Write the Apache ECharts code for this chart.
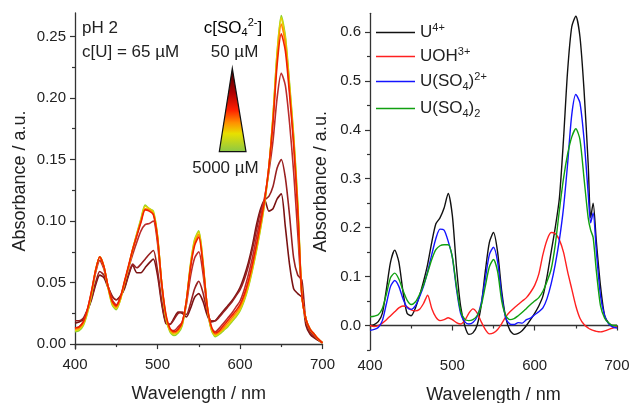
<!DOCTYPE html>
<html><head><meta charset="utf-8">
<script src="https://cdn.jsdelivr.net/npm/echarts@6/dist/echarts.min.js"></script>
<style>html,body{margin:0;padding:0;background:#fff}#c{width:631px;height:403px}</style>
</head><body><div id="c"></div>
<script>
// ---------- DATA ----------
const wlLeft = [400,405,410,415,420,425,430,435,440,445,450,455,460,465,470,475,480,485,490,495,
  500,505,510,515,520,525,530,535,540,545,550,555,560,565,570,575,580,585,590,595,
  600,605,610,615,620,625,630,635,640,645,650,655,660,665,670,675,680,685,690,695,700];

// sulfate series, 5000 µM (green) ... 50 µM (dark red)
const sGreen = [0.010,0.011,0.015,0.025,0.040,0.060,0.071,0.063,0.046,0.032,
 0.028,0.036,0.050,0.063,0.077,0.090,0.102,0.113,0.110,0.108,
 0.088,0.050,0.022,0.010,0.007,0.009,0.015,0.035,0.065,0.085,
 0.092,0.068,0.032,0.012,0.006,0.008,0.011,0.014,0.018,0.022,
 0.027,0.035,0.046,0.060,0.076,0.094,0.115,0.143,0.185,0.237,
 0.267,0.250,0.212,0.170,0.115,0.040,0.020,0.012,0.008,0.004,0.001];
const sYellow = [0.011,0.012,0.016,0.026,0.041,0.060,0.071,0.063,0.046,0.033,
 0.029,0.036,0.050,0.063,0.077,0.089,0.101,0.112,0.110,0.107,
 0.088,0.050,0.023,0.011,0.008,0.010,0.016,0.035,0.064,0.084,
 0.091,0.067,0.032,0.013,0.007,0.009,0.012,0.015,0.019,0.023,
 0.028,0.036,0.047,0.061,0.077,0.095,0.116,0.144,0.185,0.236,
 0.265,0.248,0.210,0.168,0.113,0.040,0.020,0.012,0.008,0.004,0.001];
const sOrange = [0.012,0.013,0.017,0.027,0.042,0.060,0.071,0.063,0.047,0.034,
 0.030,0.037,0.050,0.063,0.077,0.089,0.100,0.110,0.109,0.106,
 0.087,0.050,0.024,0.012,0.009,0.011,0.017,0.035,0.063,0.082,
 0.089,0.066,0.032,0.014,0.008,0.010,0.013,0.017,0.021,0.025,
 0.030,0.038,0.049,0.063,0.079,0.097,0.117,0.144,0.183,0.232,
 0.260,0.244,0.207,0.165,0.110,0.040,0.020,0.012,0.008,0.004,0.001];
const sRed = [0.013,0.014,0.018,0.028,0.043,0.060,0.071,0.063,0.047,0.035,
 0.031,0.038,0.051,0.064,0.077,0.088,0.099,0.109,0.108,0.105,
 0.086,0.050,0.025,0.013,0.010,0.012,0.018,0.035,0.062,0.080,
 0.087,0.065,0.032,0.015,0.009,0.011,0.015,0.019,0.023,0.027,
 0.032,0.040,0.051,0.065,0.081,0.099,0.118,0.144,0.180,0.227,
 0.252,0.238,0.203,0.162,0.108,0.040,0.020,0.012,0.008,0.004,0.001];
const sBrown = [0.013,0.014,0.018,0.028,0.042,0.058,0.068,0.061,0.047,0.036,
 0.032,0.038,0.050,0.062,0.073,0.083,0.092,0.097,0.098,0.100,
 0.082,0.048,0.022,0.012,0.011,0.014,0.018,0.032,0.055,0.070,
 0.075,0.058,0.030,0.013,0.010,0.013,0.017,0.021,0.025,0.030,
 0.035,0.044,0.056,0.070,0.087,0.103,0.120,0.140,0.165,0.200,
 0.220,0.210,0.180,0.140,0.090,0.040,0.020,0.012,0.007,0.004,0.001];
const sDark1 = [0.019,0.019,0.021,0.028,0.037,0.050,0.059,0.056,0.047,0.039,
 0.036,0.039,0.046,0.057,0.065,0.062,0.065,0.069,0.073,0.076,
 0.060,0.035,0.018,0.016,0.020,0.025,0.026,0.024,0.033,0.045,
 0.051,0.042,0.027,0.019,0.019,0.022,0.026,0.030,0.034,0.039,
 0.044,0.052,0.063,0.077,0.093,0.108,0.117,0.120,0.128,0.143,
 0.150,0.135,0.105,0.070,0.056,0.052,0.018,0.010,0.006,0.003,0.001];
const sDark2 = [0.017,0.018,0.020,0.027,0.036,0.048,0.056,0.054,0.046,0.039,
 0.036,0.039,0.045,0.056,0.064,0.058,0.058,0.062,0.066,0.069,
 0.056,0.033,0.017,0.016,0.021,0.026,0.025,0.022,0.029,0.038,
 0.041,0.035,0.024,0.018,0.019,0.023,0.027,0.031,0.035,0.040,
 0.046,0.055,0.066,0.080,0.097,0.110,0.117,0.108,0.110,0.118,
 0.122,0.095,0.065,0.045,0.041,0.038,0.015,0.008,0.005,0.003,0.001];

const wlRight = [400,405,410,415,420,425,430,435,440,445,450,455,460,465,470,475,480,485,490,495,
  500,505,510,515,520,525,530,535,540,545,550,555,560,565,570,575,580,585,590,595,
  600,605,610,615,620,625,630,635,640,645,650,655,660,665,668,671,675,680,685,690,695,700];
const specU4 = [0.000,0.002,0.008,0.025,0.075,0.130,0.154,0.130,0.070,0.025,
 0.020,0.035,0.060,0.090,0.125,0.170,0.208,0.220,0.240,0.270,
 0.225,0.120,0.040,0.000,-0.018,-0.015,0.000,0.040,0.110,0.170,
 0.190,0.150,0.070,0.015,-0.010,-0.018,-0.016,-0.010,0.000,0.012,
 0.025,0.040,0.060,0.100,0.150,0.200,0.260,0.380,0.520,0.610,
 0.632,0.590,0.480,0.330,0.220,0.250,0.170,0.080,0.020,0.005,0.000,0.000];
const specUOH = [0.000,-0.002,0.000,0.005,0.012,0.020,0.028,0.036,0.040,0.038,
 0.032,0.030,0.033,0.045,0.062,0.035,0.017,0.010,0.012,0.016,
 0.012,0.006,0.003,0.010,0.025,0.034,0.026,0.008,-0.008,-0.017,
 -0.015,-0.008,0.004,0.018,0.028,0.036,0.043,0.050,0.057,0.068,
 0.082,0.105,0.145,0.175,0.190,0.188,0.175,0.150,0.110,0.075,
 0.040,0.015,0.002,-0.005,-0.008,-0.010,-0.012,-0.013,-0.011,-0.008,-0.005,-0.002];
const specUSO4 = [-0.010,-0.008,-0.004,0.010,0.045,0.080,0.092,0.080,0.055,0.037,
 0.033,0.040,0.058,0.080,0.110,0.145,0.178,0.197,0.195,0.172,
 0.140,0.075,0.025,0.008,0.003,0.006,0.018,0.045,0.095,0.145,
 0.160,0.130,0.060,0.015,0.003,0.002,0.006,0.005,0.012,0.015,
 0.022,0.028,0.036,0.055,0.085,0.125,0.175,0.240,0.330,0.430,
 0.472,0.455,0.380,0.270,0.210,0.230,0.150,0.060,0.020,0.003,-0.003,-0.005];
const specUSO42 = [0.018,0.019,0.022,0.035,0.065,0.098,0.107,0.095,0.072,0.052,
 0.043,0.048,0.063,0.083,0.108,0.135,0.155,0.163,0.165,0.165,
 0.140,0.080,0.030,0.013,0.010,0.012,0.020,0.040,0.080,0.120,
 0.135,0.110,0.050,0.020,0.012,0.014,0.020,0.027,0.035,0.043,
 0.050,0.057,0.070,0.090,0.115,0.165,0.235,0.300,0.350,0.385,
 0.402,0.380,0.300,0.220,0.195,0.180,0.110,0.040,0.015,0.005,0.000,0.000];

const leftYTicks = [0, 0.05, 0.10, 0.15, 0.20, 0.25];
const leftYMinor = [0.025, 0.075, 0.125, 0.175, 0.225];
const rightYTicks = [0.0, 0.1, 0.2, 0.3, 0.4, 0.5, 0.6];
const rightYMinor = [-0.05, 0.05, 0.15, 0.25, 0.35, 0.45, 0.55];
const legendNames = ['U4+', 'UOH3+', 'U(SO4)2+', 'U(SO4)2'];
const legendRich = {
  'U4+': '{n|U}{sup|4+}',
  'UOH3+': '{n|UOH}{sup|3+}',
  'U(SO4)2+': '{n|U(SO}{sub|4}{n|)}{sup|2+}',
  'U(SO4)2': '{n|U(SO}{sub|4}{n|)}{sub|2}'
};

// ---------- CHART ----------
const FONT = '"Liberation Sans", Arial, sans-serif';
const TXT = '#222';
const chart = echarts.init(document.getElementById('c'));
const pairs = (xs, ys) => xs.map((x, i) => [x, ys[i]]);

const leftSeries = [
  {d: sDark2, c: '#7a1212'},
  {d: sDark1, c: '#982020'},
  {d: sBrown, c: '#bb2c2c'},
  {d: sGreen, c: '#8fd22a'},
  {d: sYellow, c: '#e3d400'},
  {d: sOrange, c: '#ff8a00'},
  {d: sRed, c: '#f02000'}
].map(s => ({
  type: 'line', xAxisIndex: 0, yAxisIndex: 0, data: pairs(wlLeft, s.d),
  showSymbol: false, smooth: 0.25, lineStyle: {color: s.c, width: 1.6}, itemStyle: {color: s.c},
  silent: true
}));

const rightDefs = [
  {n: 'U4+', d: specU4, c: '#111111'},
  {n: 'UOH3+', d: specUOH, c: '#ff2020'},
  {n: 'U(SO4)2+', d: specUSO4, c: '#1414ff'},
  {n: 'U(SO4)2', d: specUSO42, c: '#10a010'}
];
const rightSeries = rightDefs.map(s => ({
  name: s.n, type: 'line', xAxisIndex: 1, yAxisIndex: 2, data: pairs(wlRight, s.d),
  showSymbol: false, symbol: 'none', smooth: 0.25, lineStyle: {color: s.c, width: 1.4}, itemStyle: {color: s.c},
  silent: true
}));

const xAxisCommon = {
  type: 'value', min: 400, max: 700, interval: 100,
  axisLine: {show: true, lineStyle: {color: '#333', width: 1.3}},
  axisTick: {show: true, inside: false, length: 5, lineStyle: {color: '#333', width: 1.2}},
  minorTick: {show: true, splitNumber: 2, length: 3, lineStyle: {color: '#333', width: 1.2}},
  splitLine: {show: false}, minorSplitLine: {show: false},
  axisLabel: {fontSize: 15, fontFamily: FONT, color: TXT, margin: 8},
  name: 'Wavelength / nm', nameLocation: 'middle', nameGap: 36,
  nameTextStyle: {fontSize: 18, fontFamily: FONT, color: TXT}
};
function yMajor(grid, min, max, ticks, dec, gap) {
  return {
    type: 'value', gridIndex: grid, min: min, max: max, position: 'left',
    axisLine: {show: true, lineStyle: {color: '#333', width: 1.3}},
    axisTick: {show: true, length: 5, customValues: ticks, lineStyle: {color: '#333', width: 1.2}},
    axisLabel: {show: true, customValues: ticks, formatter: v => v.toFixed(dec), fontSize: 15, fontFamily: FONT, color: TXT, margin: 9},
    splitLine: {show: false},
    name: 'Absorbance / a.u.', nameLocation: 'middle', nameGap: gap, nameRotate: 90,
    nameTextStyle: {fontSize: 18, fontFamily: FONT, color: TXT}
  };
}
function yMinor(grid, min, max, ticks) {
  return {
    type: 'value', gridIndex: grid, min: min, max: max, position: 'left',
    axisLine: {show: false},
    axisTick: {show: true, length: 3, customValues: ticks, lineStyle: {color: '#333', width: 1.2}},
    axisLabel: {show: false}, splitLine: {show: false}
  };
}

const richStyles = {
  n: {fontSize: 17, fontFamily: FONT, color: TXT},
  sup: {fontSize: 11, fontFamily: FONT, color: TXT, padding: [0, 0, 10, 0]},
  sub: {fontSize: 11, fontFamily: FONT, color: TXT, padding: [10, 0, 0, 0]}
};
const legendTops = [22, 46, 71, 100];
const legends = legendNames.map((n, i) => ({
  data: [n], left: 376, top: legendTops[i], padding: 0, selectedMode: false,
  icon: 'rect', itemWidth: 39, itemHeight: 1.5,
  formatter: name => legendRich[name],
  textStyle: {rich: richStyles}
}));

const option = {
  animation: false,
  backgroundColor: '#fff',
  grid: [
    {left: 75, top: 13, width: 247.5, height: 336, outerBoundsMode: 'none', containLabel: false},
    {left: 370, top: 13.3, width: 247, height: 336.7, outerBoundsMode: 'none', containLabel: false}
  ],
  xAxis: [Object.assign({gridIndex: 0}, xAxisCommon), Object.assign({gridIndex: 1}, xAxisCommon)],
  yAxis: [
    yMajor(0, -0.004, 0.269, leftYTicks, 2, 46),
    yMinor(0, -0.004, 0.269, leftYMinor),
    yMajor(1, -0.05, 0.638, rightYTicks, 1, 40),
    yMinor(1, -0.05, 0.638, rightYMinor)
  ],
  legend: legends,
  series: leftSeries.concat(rightSeries),
  graphic: [
    {type: 'text', x: 82, y: 28, style: {text: 'pH 2', font: '17px ' + FONT, fill: TXT, verticalAlign: 'middle'}},
    {type: 'text', x: 82, y: 52, style: {text: 'c[U] = 65 µM', font: '17px ' + FONT, fill: TXT, verticalAlign: 'middle'}},
    {type: 'text', x: 233, y: 28, style: {text: '{n|c[SO}{sub|4}{sup|2-}{n|]}', rich: richStyles, align: 'center', verticalAlign: 'middle'}},
    {type: 'text', x: 234.5, y: 52, style: {text: '50 µM', font: '17px ' + FONT, fill: TXT, align: 'center', verticalAlign: 'middle'}},
    {type: 'text', x: 225.5, y: 168, style: {text: '5000 µM', font: '17px ' + FONT, fill: TXT, align: 'center', verticalAlign: 'middle'}},
    {type: 'polygon', shape: {points: [[232.3, 68.3], [219.3, 151.7], [246, 151.7]]},
     style: {stroke: '#111', lineWidth: 1.2,
       fill: new echarts.graphic.LinearGradient(0, 0, 0, 1, [
         {offset: 0, color: '#3a0000'},
         {offset: 0.3, color: '#b00000'},
         {offset: 0.5, color: '#ff2000'},
         {offset: 0.65, color: '#ff9000'},
         {offset: 0.78, color: '#e8e000'},
         {offset: 1, color: '#88c848'}
       ])}}
  ]
};
chart.setOption(option);
</script>
</body></html>
